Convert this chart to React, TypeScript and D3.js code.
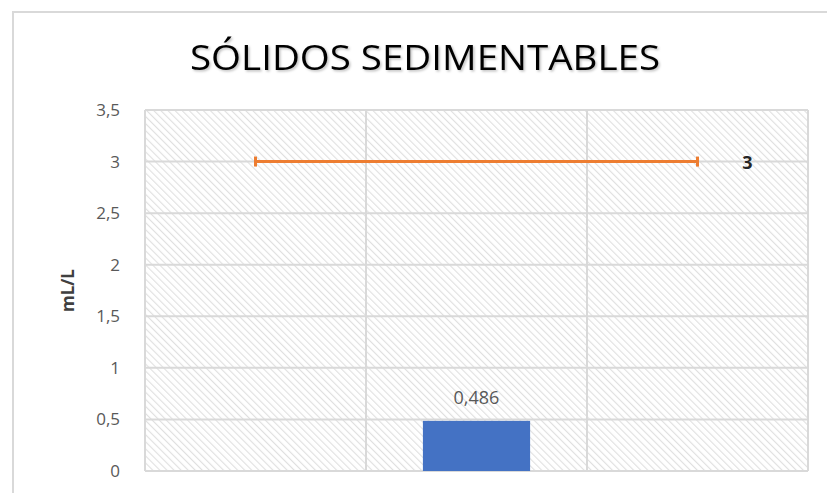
import React from 'react';
import * as d3 from 'd3';

// chart data
const categories = ['M1', 'M2', 'M3'];
const barValues = [null, 0.486, null];
const limitValues = [3, 3, 3];
const yTicks = [0, 0.5, 1, 1.5, 2, 2.5, 3, 3.5];
const title = 'SÓLIDOS SEDIMENTABLES';
const yLabel = 'mL/L';

const W = 827;
const H = 493;
const plot = { left: 145, right: 808, top: 110, bottom: 471 };

const locale = d3.formatLocale({ decimal: ',', thousands: '.', grouping: [3], currency: ['', '€'] });
const fmt = (v: number) => locale.format('~g')(v);

export default function App() {
  const x = d3.scaleBand().domain(categories).range([plot.left, plot.right]).padding(0);
  const y = d3.scaleLinear().domain([0, 3.5]).range([plot.bottom, plot.top]);
  const barW = x.bandwidth() * 0.485;

  const line = d3.line<number>()
    .x((d, i) => (x(categories[i]) as number) + x.bandwidth() / 2)
    .y(d => y(d));

  const firstX = (x(categories[0]) as number) + x.bandwidth() / 2;
  const lastX = (x(categories[categories.length - 1]) as number) + x.bandwidth() / 2;

  return (
    <svg width={W} height={H} style={{ position: 'absolute', left: 0, top: 0, background: '#fff' }}>
      <defs>
        <pattern id="hatch" patternUnits="userSpaceOnUse" width={5} height={5} patternTransform="rotate(-45)">
          <rect width={5} height={5} fill="#fff" />
          <line x1={0} y1={0} x2={0} y2={5} stroke="#e0e0e0" strokeWidth={2.2} />
        </pattern>
        <filter id="shadow" x="-5%" y="-20%" width="110%" height="150%">
          <feDropShadow dx={1.5} dy={1.5} stdDeviation={1} floodColor="#000" floodOpacity={0.25} />
        </filter>
      </defs>

      {/* chart frame */}
      <rect x={13} y={12} width={W + 10} height={H + 10} fill="#fff" stroke="#d9d9d9" strokeWidth={2} />

      <text x={425} y={70} textAnchor="middle" fontFamily="Open Sans" fontSize={35}
        textLength={470} lengthAdjust="spacingAndGlyphs" fill="#000" filter="url(#shadow)">{title}</text>

      {/* plot area */}
      <rect x={plot.left} y={plot.top} width={plot.right - plot.left} height={plot.bottom - plot.top} fill="url(#hatch)" />

      {yTicks.map(t => (
        <line key={'g' + t} x1={plot.left} x2={plot.right} y1={y(t)} y2={y(t)} stroke="#d9d9d9" strokeWidth={2} />
      ))}
      {categories.map((c, i) => (
        <line key={'v' + c} x1={x(c)} x2={x(c)} y1={plot.top} y2={plot.bottom} stroke="#d9d9d9" strokeWidth={2} />
      ))}
      <line x1={plot.right} x2={plot.right} y1={plot.top} y2={plot.bottom} stroke="#d9d9d9" strokeWidth={2} />

      {yTicks.map(t => (
        <text key={'t' + t} x={120} y={y(t)} dy="0.35em" textAnchor="end" fontFamily="Open Sans"
          fontSize={17} fill="#595959">{fmt(t)}</text>
      ))}

      <text transform={`translate(74,${(plot.top + plot.bottom) / 2}) rotate(-90)`} textAnchor="middle"
        fontFamily="Open Sans" fontWeight="bold" fontSize={17} fill="#404040">{yLabel}</text>

      {barValues.map((v, i) => v == null ? null : (
        <g key={'b' + i}>
          <rect x={(x(categories[i]) as number) + (x.bandwidth() - barW) / 2} y={y(v)} width={barW}
            height={y(0) - y(v)} fill="#4472C4" />
          <text x={(x(categories[i]) as number) + x.bandwidth() / 2} y={y(v) - 23} dy="0.35em" textAnchor="middle"
            fontFamily="Open Sans" fontSize={18} fill="#595959">{fmt(v)}</text>
        </g>
      ))}

      <path d={line(limitValues) as string} fill="none" stroke="#ED7D31" strokeWidth={3} />
      {[firstX, lastX].map((cx, i) => (
        <line key={'c' + i} x1={cx} x2={cx} y1={y(limitValues[0]) - 5} y2={y(limitValues[0]) + 5}
          stroke="#ED7D31" strokeWidth={3} />
      ))}
      <text x={lastX + 50} y={y(limitValues[limitValues.length - 1])} dy="0.4em" textAnchor="middle"
        fontFamily="Open Sans" fontWeight="bold" fontSize={18} fill="#262626">{fmt(limitValues[2])}</text>
    </svg>
  );
}
